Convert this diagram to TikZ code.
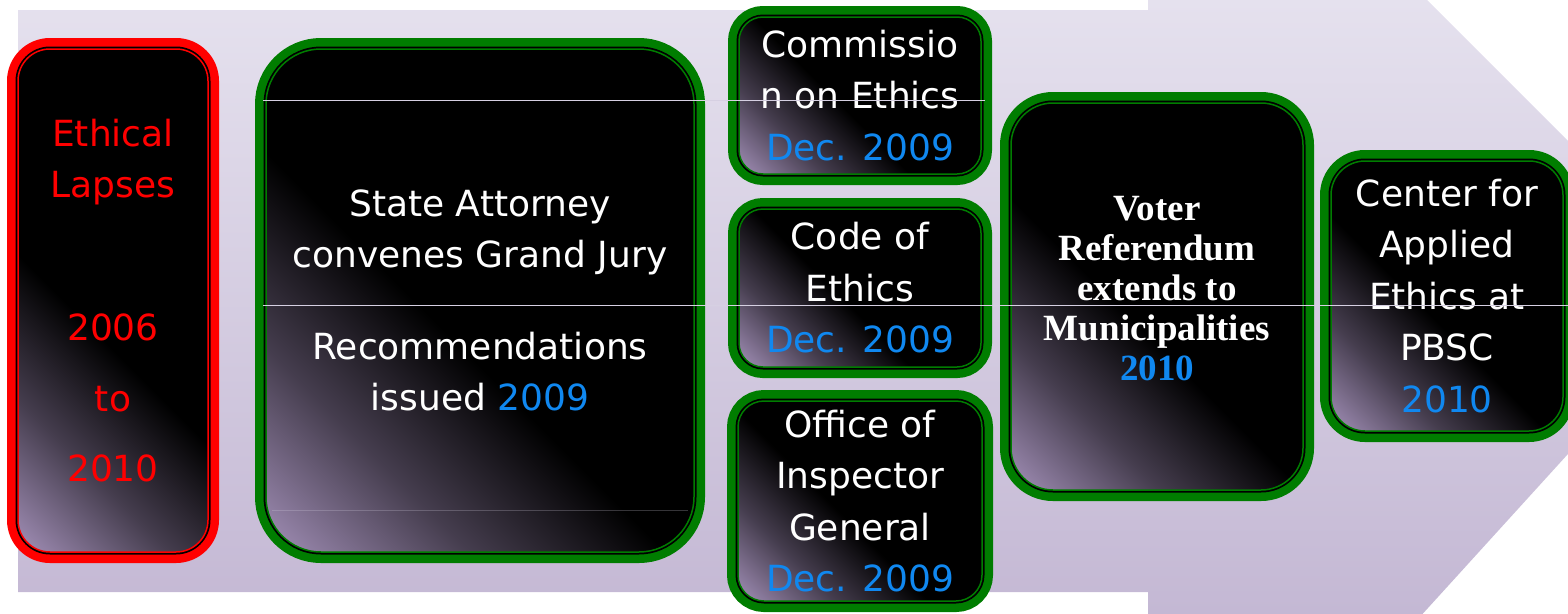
\documentclass[tikz,border=0pt]{standalone}
\usepackage{fontspec}
\setmainfont{DejaVu Sans}
\newfontfamily\voterfont{Liberation Serif}

\definecolor{bgtop}{RGB}{229,225,238}
\definecolor{bgbot}{RGB}{196,184,212}
\definecolor{glow}{RGB}{154,136,174}
\definecolor{ringgreen}{RGB}{0,125,0}
\definecolor{ringred}{RGB}{255,0,0}
\definecolor{dateblue}{RGB}{16,136,240}
\definecolor{seamgray}{RGB}{214,208,226}

\pgfdeclarehorizontalshading{boxglow}{100bp}{color(0bp)=(glow); color(16bp)=(glow); color(30bp)=(glow!45!black); color(45bp)=(black); color(100bp)=(black)}

\newcommand{\datetext}[1]{\textcolor{dateblue}{#1}}

\begin{document}
\begin{tikzpicture}[x=1pt, y=-1pt,
    box/.style={rectangle, rounded corners=#1, inner sep=0pt, align=center,
      shading=boxglow, shading angle=45, line width=1.5pt, text=white,
      font=\fontsize{36}{51.5}\selectfont},
    box/.default=30pt,
    greenring/.style={draw=ringgreen,
      preaction={draw=ringgreen, line width=22pt},
      preaction={draw=black, line width=5pt}},
    redring/.style={draw=ringred,
      preaction={draw=ringred, line width=22pt},
      preaction={draw=black, line width=5pt}},
    seam/.style={draw=seamgray, line width=0.8pt}]
  \useasboundingbox (0,0) rectangle (1568,613);

  %background arrow
  \begin{scope}
    \clip (18,10) -- (1148,10) -- (1148,-279) -- (1717,290) -- (1148,916) -- (1148,592) -- (18,592) -- cycle;
    \shade[top color=bgtop, bottom color=bgbot] (0,0) rectangle (1568,613);
  \end{scope}

  %boxes
  \node[box=32pt, redring, text=ringred, minimum width=190pt, minimum height=503pt] (lapses) at (113,300.5)
    {Ethical\\Lapses\\[91pt]2006\\[20pt]to\\[18pt]2010};
  \node[box=55pt, greenring, minimum width=428pt, minimum height=503pt] (jury) at (480,300.5)
    {State Attorney\\convenes Grand Jury\\[40pt]Recommendations\\issued \datetext{2009}};
  \node[box=24pt, greenring, minimum width=242pt, minimum height=157pt] (commission) at (860,95.5)
    {Commissio\\n on Ethics\\\datetext{Dec. 2009}};
  \node[box=24pt, greenring, minimum width=242pt, minimum height=158pt] (code) at (860,288)
    {Code of\\Ethics\\\datetext{Dec. 2009}};
  \node[box=26pt, greenring, minimum width=244pt, minimum height=200pt] (inspector) at (860,501)
    {Office of\\Inspector\\General\\\datetext{Dec. 2009}};
  \node[box=42pt, greenring, minimum width=292pt, minimum height=387pt, text depth=17pt,
    font=\voterfont\bfseries\fontsize{37}{40}\selectfont] (referendum) at (1157,296.5)
    {Voter\\Referendum\\extends to\\Municipalities\\\datetext{2010}};
  \node[box=34pt, greenring, minimum width=232pt, minimum height=270pt] (center) at (1447,296)
    {Center for\\Applied\\Ethics at\\PBSC\\\datetext{2010}};

  %seams
  \draw[seam] (263,100) -- (985,100);
  \draw[seam] (263,305) -- (1568,305);
  \draw[seam, draw opacity=0.25] (272,510) -- (688,510);
\end{tikzpicture}
\end{document}
